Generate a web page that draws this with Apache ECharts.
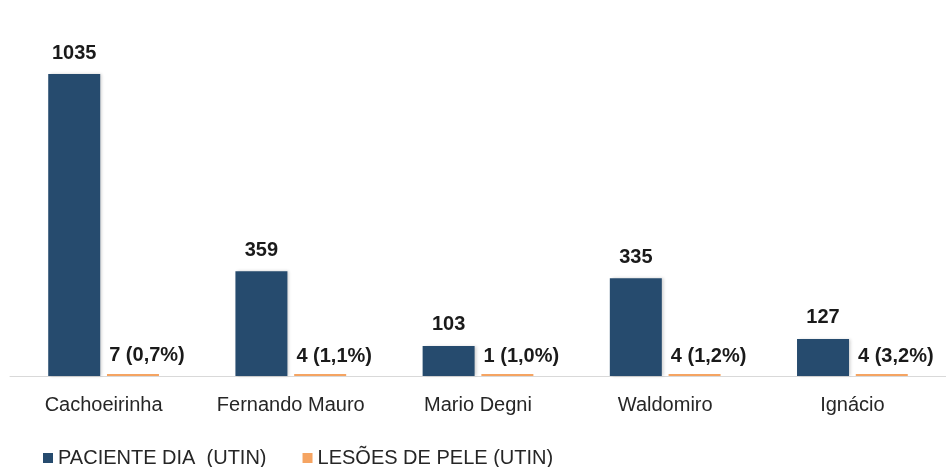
<!DOCTYPE html>
<html>
<head>
<meta charset="utf-8">
<script src="https://cdn.jsdelivr.net/npm/echarts@6/dist/echarts.min.js"></script>
<style>
  html, body { margin: 0; padding: 0; background: #fff; }
  #chart { width: 946px; height: 467px; }
</style>
</head>
<body>
<div id="chart"></div>
<script>
const categories = ['Cachoeirinha', 'Fernando Mauro', 'Mario Degni', 'Waldomiro', 'Ignácio']
const pacienteDia = [1035, 359, 103, 335, 127]
const lesoesPele = [7, 4, 1, 4, 4]
const lesoesPct = ['0,7%', '1,1%', '1,0%', '1,2%', '3,2%']

const font = '"Liberation Sans", Arial, sans-serif'

const chart = echarts.init(document.getElementById('chart'))

const options = {
  animation: false,
  grid: {
    left: 10,
    right: -4,
    top: 74,
    bottom: 91,
  },
  legend: {
    left: 38,
    top: 443,
    itemWidth: 10,
    itemHeight: 10,
    itemGap: 36,
    icon: 'rect',
    textStyle: {
      fontFamily: font,
      fontSize: 20,
      color: '#262626',
    },
    data: ['PACIENTE DIA  (UTIN)', 'LESÕES DE PELE (UTIN)'],
  },
  xAxis: {
    type: 'category',
    data: categories,
    axisLine: { lineStyle: { color: '#d9d9d9', width: 1 } },
    axisTick: { show: false },
    axisLabel: {
      interval: 0,
      hideOverlap: false,
      fontFamily: font,
      fontSize: 20,
      color: '#262626',
      margin: 19,
    },
  },
  yAxis: {
    type: 'value',
    min: 0,
    max: 1035,
    show: false,
    splitLine: { show: false },
  },
  series: [
    {
      name: 'PACIENTE DIA  (UTIN)',
      type: 'bar',
      data: pacienteDia,
      barWidth: 52,
      barGap: '13%',
      itemStyle: {
        color: '#264b6e',
        shadowColor: 'rgba(0,0,0,0.18)',
        shadowBlur: 3,
        shadowOffsetX: 2,
      },
      label: {
        show: true,
        position: 'top',
        distance: 11,
        fontFamily: font,
        fontSize: 20,
        fontWeight: 'bold',
        color: '#1a1a1a',
      },
    },
    {
      name: 'LESÕES DE PELE (UTIN)',
      type: 'bar',
      data: lesoesPele,
      barWidth: 52,
      barGap: '13%',
      barMinHeight: 2,
      itemStyle: {
        color: '#f5a462',
      },
      label: {
        show: true,
        position: 'top',
        distance: 8,
        offset: [14, 0],
        fontFamily: font,
        fontSize: 20,
        fontWeight: 'bold',
        color: '#1a1a1a',
        formatter: (p) => p.value + ' (' + lesoesPct[p.dataIndex] + ')',
      },
    },
  ],
}

chart.setOption(options)
</script>
</body>
</html>
